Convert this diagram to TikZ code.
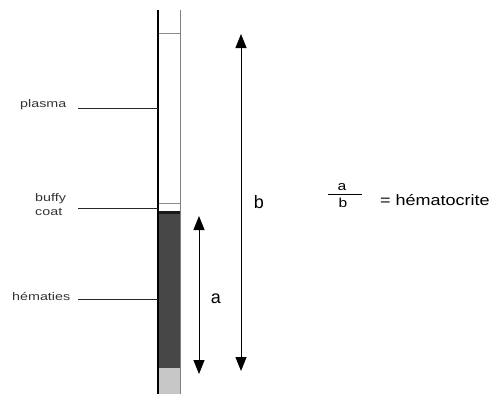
\documentclass[tikz,border=0pt]{standalone}
\usepackage{graphicx}
\usepackage{fontspec}
\setmainfont{Liberation Sans}
\usetikzlibrary{arrows.meta}
\newcommand{\wid}[2][1.3]{\scalebox{#1}[1]{#2}}
\begin{document}
\begin{tikzpicture}[x=1pt,y=-1pt,
  lbl/.style={font=\fontsize{11}{12}\selectfont, text=black!80, inner sep=0pt},
  big/.style={font=\fontsize{18}{20}\selectfont, inner sep=0pt},
  frac/.style={font=\fontsize{13}{14}\selectfont, inner sep=0pt},
  lead/.style={line width=0.8pt, black!85},
  dim/.style={line width=0.9pt, {Triangle[length=14pt,width=11pt]}-{Triangle[length=14pt,width=11pt]}}]
\useasboundingbox (0,0) rectangle (495,394);
% tube contents
\fill[black!72] (158,211) rectangle (180,368);
\fill[black!90] (158,211) rectangle (180,214);
\fill[black!22] (158,368) rectangle (180,394);
\draw[black!45, line width=0.8pt] (158,33) -- (180,33);
\draw[black!45, line width=0.8pt] (158,203) -- (180,203);
\draw[black!50, line width=0.9pt] (180,10) -- (180,394);
\draw[black, line width=1.2pt] (158,10) -- (158,394);
% labels
\node[lbl, anchor=base west] (plasma) at (20,107) {\wid{plasma}};
\coordinate (pe) at (158,108);
\draw[lead] (78,108) -- (pe);
\node[lbl, anchor=base west] (buffy) at (35,201) {\wid{buffy}};
\node[lbl, anchor=base west] (coat) at (35,215) {\wid{coat}};
\coordinate (be) at (158,208);
\draw[lead] (78,208) -- (be);
\node[lbl, anchor=base west] (hem) at (12,300) {\wid{hématies}};
\coordinate (he) at (158,299);
\draw[lead] (78,299) -- (he);
% dimension arrows
\coordinate (bt) at (241,34);
\coordinate (bb) at (241,371);
\draw[dim] (bb) -- (bt);
\node[big, anchor=base] (b) at (259,208) {b};
\coordinate (at) at (199,216);
\coordinate (ab) at (199,374);
\draw[dim] (ab) -- (at);
\node[big, anchor=base] (a) at (216,303) {a};
% formula
\node[frac, anchor=base] (fa) at (342,190) {\wid[1.2]{a}};
\node[frac, anchor=base] (fb) at (343,207) {\wid[1.2]{b}};
\draw[line width=1pt] (328,194) -- (362,194);
\node[font=\fontsize{15}{16}\selectfont, anchor=base west, inner sep=0pt] (h) at (380,205) {\wid[1.2]{= hématocrite}};
\end{tikzpicture}
\end{document}
